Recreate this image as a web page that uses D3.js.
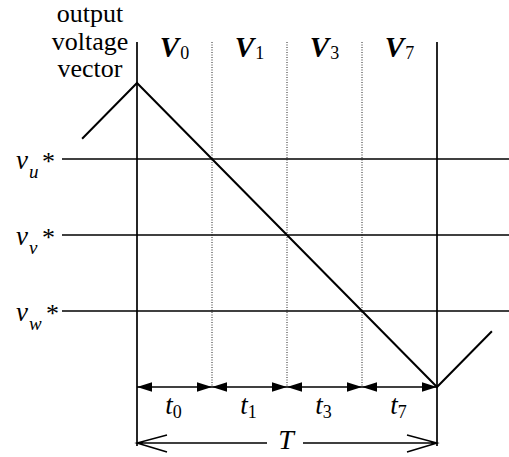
<!DOCTYPE html>
<html>
<head>
<meta charset="utf-8">
<script src="https://cdn.jsdelivr.net/npm/d3@7"></script>
<style>
  html, body { margin: 0; padding: 0; background: #fff; }
  svg { display: block; }
</style>
</head>
<body>
<svg id="chart" width="509" height="457"></svg>
<script>
// Space-vector PWM timing over one carrier period T (time in units of T, levels normalised to ±1)

// Triangular carrier: vertices (time, level)
const carrierTime  = [-0.183, 0, 1, 1.183];
const carrierLevel = [0.633, 1, -1, -0.633];

// Phase voltage references
const refNames  = ["u", "v", "w"];
const refLevels = [0.5, 0, -0.5];

// Output voltage vectors applied in the period and their switching instants
const vectorNames = ["0", "1", "3", "7"];
const switchTimes = [0, 0.25, 0.5, 0.75, 1];
const durationNames = ["0", "1", "3", "7"];

const captionLines = ["output", "voltage", "vector"];

// Pick the first installed serif face (canvas width differs from both generic fallbacks)
function pickFont(cands) {
  const ctx = document.createElement("canvas").getContext("2d");
  const probe = "mmmmmmmmmwwwwwlliiOQ@#1";
  const w = f => { ctx.font = "40px " + f; return ctx.measureText(probe).width; };
  const bases = ["monospace", "sans-serif"].map(w);
  for (const c of cands) {
    const cw = ["monospace", "sans-serif"].map(b => w(`"${c}", ${b}`));
    if (cw[0] !== bases[0] && cw[1] !== bases[1]) return `"${c}", serif`;
  }
  return "serif";
}
const FONT = pickFont(["Liberation Serif", "DejaVu Serif", "Noto Serif", "Times New Roman", "Tinos", "FreeSerif", "Nimbus Roman", "Bitstream Vera Serif"]);

const svg = d3.select("#chart").attr("font-family", FONT);
const W = 509;

const x = d3.scaleLinear().domain([0, 1]).range([137, 437]);
const y = d3.scaleLinear().domain([-1, 1]).range([387, 83]);

const topY = 42;       // top of the period boundary lines
const arrowY = y(-1);  // row of the duration arrows
const periodY = 443;   // row of the period arrow
const bottomY = 446;

function label(sel) { return sel.attr("font-family", FONT).attr("fill", "#000"); }

// Period boundary lines (solid) and vector boundaries (dotted)
svg.selectAll("line.bound")
  .data([switchTimes[0], switchTimes[switchTimes.length - 1]])
  .join("line")
  .attr("class", "bound")
  .attr("x1", d => x(d)).attr("x2", d => x(d))
  .attr("y1", topY).attr("y2", bottomY)
  .attr("stroke", "#000").attr("stroke-width", 1.7);

svg.selectAll("line.dot")
  .data(switchTimes.slice(1, -1))
  .join("line")
  .attr("class", "dot")
  .attr("x1", d => x(d)).attr("x2", d => x(d))
  .attr("y1", topY).attr("y2", arrowY)
  .attr("stroke", "#222").attr("stroke-width", 1)
  .attr("stroke-dasharray", "1,1.5");

// Reference levels
svg.selectAll("line.ref")
  .data(refLevels)
  .join("line")
  .attr("class", "ref")
  .attr("x1", x(-0.25)).attr("x2", W)
  .attr("y1", d => y(d)).attr("y2", d => y(d))
  .attr("stroke", "#000").attr("stroke-width", 1.5);

// Reference labels v_u*, v_v*, v_w*
refNames.forEach((n, i) => {
  const ly = y(refLevels[i]);
  const g = svg.append("g");
  label(g.append("text")).attr("x", 16).attr("y", ly + 10)
    .attr("font-size", 27).attr("font-style", "italic").text("v");
  label(g.append("text")).attr("x", 29).attr("y", ly + 19)
    .attr("font-size", 19).attr("font-style", "italic").text(n);
  label(g.append("text")).attr("x", n === "w" ? 46 : 42).attr("y", ly + 11)
    .attr("font-size", 26).text("*");
});

// Carrier
const carrier = carrierTime.map((t, i) => [t, carrierLevel[i]]);
svg.append("path")
  .datum(carrier)
  .attr("d", d3.line().x(d => x(d[0])).y(d => y(d[1])))
  .attr("fill", "none").attr("stroke", "#000").attr("stroke-width", 2)
  .attr("stroke-linejoin", "miter");

// Vector labels V_0 ... V_7
vectorNames.forEach((n, i) => {
  const cx = (x(switchTimes[i]) + x(switchTimes[i + 1])) / 2;
  const t = label(svg.append("text")).attr("x", cx).attr("y", 57).attr("text-anchor", "middle");
  t.append("tspan").attr("font-size", 29).attr("font-weight", "bold").attr("font-style", "italic").text("V");
  t.append("tspan").attr("font-size", 18).attr("dx", 1).attr("dy", 2).text(n);
});

// Duration arrows with filled heads
const headL = 15, headH = 4.8;
svg.append("line")
  .attr("x1", x(switchTimes[0])).attr("x2", x(switchTimes[switchTimes.length - 1]))
  .attr("y1", arrowY).attr("y2", arrowY)
  .attr("stroke", "#000").attr("stroke-width", 1.5);
const heads = [];
for (let i = 0; i < switchTimes.length - 1; i++) {
  heads.push({ tip: x(switchTimes[i]), dir: 1 });
  heads.push({ tip: x(switchTimes[i + 1]), dir: -1 });
}
svg.selectAll("path.head")
  .data(heads)
  .join("path")
  .attr("class", "head")
  .attr("d", d => `M${d.tip},${arrowY}L${d.tip + d.dir * headL},${arrowY - headH}L${d.tip + d.dir * headL},${arrowY + headH}Z`)
  .attr("fill", "#000");

// Duration labels t_0 ... t_7
durationNames.forEach((n, i) => {
  const cx = (x(switchTimes[i]) + x(switchTimes[i + 1])) / 2;
  const t = label(svg.append("text")).attr("x", cx - 1).attr("y", 414).attr("text-anchor", "middle");
  t.append("tspan").attr("font-size", 27).attr("font-style", "italic").text("t");
  t.append("tspan").attr("font-size", 18).attr("dy", 4).text(n);
});

// Period arrow T with open heads
const x0 = x(switchTimes[0]), x1 = x(switchTimes[switchTimes.length - 1]);
const midT = (x0 + x1) / 2;
svg.append("path")
  .attr("d", `M${x0},${periodY}H${midT - 20}M${midT + 16},${periodY}H${x1}` +
             `M${x0 + 30},${periodY - 8}L${x0},${periodY}L${x0 + 30},${periodY + 9}` +
             `M${x1 - 30},${periodY - 8}L${x1},${periodY}L${x1 - 30},${periodY + 9}`)
  .attr("fill", "none").attr("stroke", "#000").attr("stroke-width", 1.5);
label(svg.append("text")).attr("x", midT - 1).attr("y", 449).attr("text-anchor", "middle")
  .attr("font-size", 28).attr("font-style", "italic").text("T");

// Vertical axis caption
captionLines.forEach((w, i) => {
  label(svg.append("text")).attr("x", 90).attr("y", 22 + i * 27.5)
    .attr("text-anchor", "middle").attr("font-size", 26).text(w);
});
</script>
</body>
</html>
